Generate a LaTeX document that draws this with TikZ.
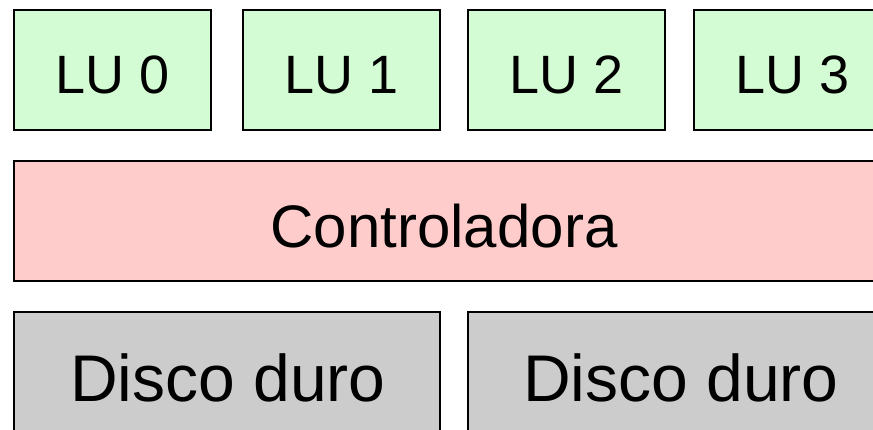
\documentclass[tikz,border=0pt]{standalone}
\usepackage{fontspec}
\setmainfont{Liberation Sans}
\definecolor{lugreen}{HTML}{D4FCD4}
\definecolor{ctlpink}{HTML}{FFCCCC}
\definecolor{diskgray}{HTML}{CCCCCC}
\begin{document}
\begin{tikzpicture}[x=1pt,y=-1pt,
  box/.style={draw=black,line width=1.6pt,inner sep=0pt,outer sep=0pt,anchor=north west},
  lubox/.style={box,fill=lugreen,minimum width=197pt,minimum height=120pt,text height=47pt,text depth=0pt,font=\fontsize{54}{60}\selectfont},
  ctlbox/.style={box,fill=ctlpink,minimum width=860pt,minimum height=120pt,text height=54pt,text depth=0pt,font=\fontsize{60}{66}\selectfont},
  diskbox/.style={box,fill=diskgray,minimum width=426pt,minimum height=160pt},
  disktext/.style={font=\fontsize{66}{72}\selectfont}]
\useasboundingbox (0,0) rectangle (873,430);
\clip (0,0) rectangle (873,430);
\node[lubox] (lu0) at (14,10) {LU 0};
\node[lubox] (lu1) at (243,10) {LU 1};
\node[lubox] (lu2) at (468,10) {LU 2};
\node[lubox] (lu3) at (694,10) {LU 3};
\node[ctlbox] (ctl) at (14,161) {Controladora};
\node[diskbox] (d0) at (14,312) {};
\node[disktext] (d0t) at (228,378) {Disco duro};
\node[diskbox] (d1) at (468,312) {};
\node[disktext] (d1t) at (681,378) {Disco duro};
\end{tikzpicture}
\end{document}
